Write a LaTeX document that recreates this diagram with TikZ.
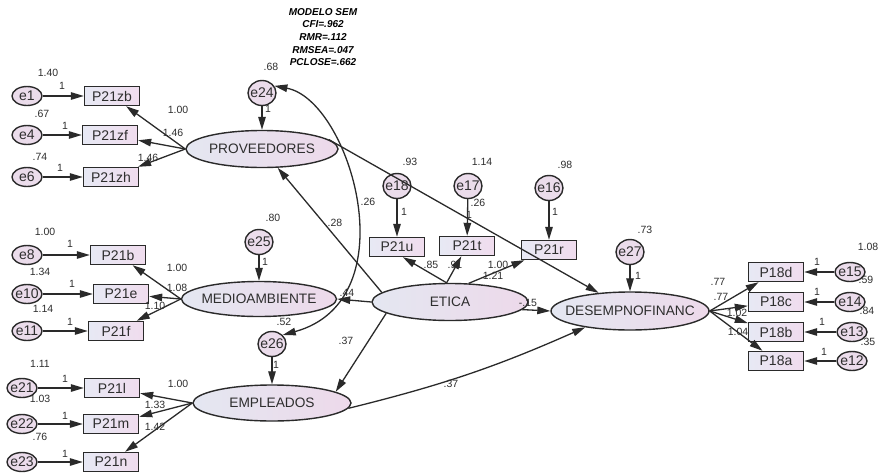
\documentclass[tikz,border=0pt]{standalone}
\usepackage{fontspec}
\setmainfont{Liberation Sans}
\usetikzlibrary{arrows.meta,shapes.geometric}
\definecolor{edge}{HTML}{2A2A2A}
\definecolor{txt}{HTML}{2E2E2E}
\definecolor{latL}{HTML}{E4E7F1}
\definecolor{latR}{HTML}{EDD9EA}
\definecolor{obsL}{HTML}{E7E9F4}
\definecolor{obsR}{HTML}{F0DCEE}
\definecolor{errc}{HTML}{EBDCEB}
% zero-width text so the ellipse keeps its given size
\newcommand{\zw}[1]{\makebox[0pt]{#1}}
\begin{document}
\begin{tikzpicture}[x=1pt,y=-1pt,
  lat/.style={ellipse, draw=edge, line width=1.4pt, left color=latL, right color=latR,
    inner sep=0pt, text=txt, font=\fontsize{13.7}{15}\selectfont},
  obs/.style={rectangle, draw=edge, line width=1.4pt, left color=obsL, right color=obsR,
    minimum width=55pt, minimum height=19pt, inner sep=0pt, text=txt,
    font=\fontsize{14}{15}\selectfont},
  errs/.style={ellipse, draw=edge, line width=1.4pt, fill=errc, minimum width=30pt,
    minimum height=19pt, inner sep=0pt, text=txt, font=\fontsize{14}{15}\selectfont},
  errt/.style={errs, minimum width=28pt, minimum height=25pt},
  arr/.style={draw=edge, line width=1.3pt, -{Triangle[length=13pt,width=7.5pt]}},
  cov/.style={draw=edge, line width=1.3pt, {Triangle[length=13pt,width=7.5pt]}-{Triangle[length=13pt,width=7.5pt]}},
  num/.style={inner sep=0pt, text=txt, font=\fontsize{10.5}{12}\selectfont},
  ttl/.style={inner sep=0pt, text=black, align=center, font=\fontsize{10}{12.6}\selectfont\bfseries\itshape}
]
\useasboundingbox (0,0) rectangle (881,474);

% ---------- latent variables ----------
\node[lat, minimum width=152pt, minimum height=37pt] (prov)  at (262,149) {\zw{PROVEEDORES}};
\node[lat, minimum width=155pt, minimum height=35pt] (med)   at (259,299) {\zw{MEDIOAMBIENTE}};
\node[lat, minimum width=158pt, minimum height=36pt] (emp)   at (272,403) {\zw{EMPLEADOS}};
\node[lat, minimum width=156pt, minimum height=37pt] (etica) at (450,302) {\zw{ETICA}};
\node[lat, minimum width=158pt, minimum height=38pt] (des)   at (630,311) {\zw{DESEMPNOFINANC}};

% ---------- observed indicators ----------
\node[obs] (pzb) at (112,96)  {P21zb};
\node[obs] (pzf) at (110,135) {P21zf};
\node[obs] (pzh) at (111,177) {P21zh};
\node[obs] (pb)  at (118,255) {P21b};
\node[obs] (pe)  at (121,294) {P21e};
\node[obs] (pf)  at (116,331) {P21f};
\node[obs] (pl)  at (112,388) {P21l};
\node[obs] (pm)  at (111,424) {P21m};
\node[obs] (pn)  at (111,462) {P21n};
\node[obs] (pu)  at (397,247) {P21u};
\node[obs] (pt)  at (467,246) {P21t};
\node[obs] (pr)  at (549,250) {P21r};
\node[obs] (qd)  at (776,272) {P18d};
\node[obs] (qc)  at (776,302) {P18c};
\node[obs] (qb)  at (776,332) {P18b};
\node[obs] (qa)  at (776,361) {P18a};

% ---------- error terms ----------
\node[errs] (e1)  at (27,96)  {\zw{e1}};
\node[errs] (e4)  at (27,135) {\zw{e4}};
\node[errs] (e6)  at (27,177) {\zw{e6}};
\node[errs] (e8)  at (27,255) {\zw{e8}};
\node[errs] (e10) at (27,294) {\zw{e10}};
\node[errs] (e11) at (27,331) {\zw{e11}};
\node[errs] (e21) at (22,388) {\zw{e21}};
\node[errs] (e22) at (22,424) {\zw{e22}};
\node[errs] (e23) at (22,462) {\zw{e23}};
\node[errs] (e15) at (850,272) {\zw{e15}};
\node[errs] (e14) at (850,302) {\zw{e14}};
\node[errs] (e13) at (852,332) {\zw{e13}};
\node[errs] (e12) at (852,361) {\zw{e12}};
\node[errt] (e24) at (262,93)  {\zw{e24}};
\node[errt] (e25) at (259,242) {\zw{e25}};
\node[errt] (e26) at (272,344) {\zw{e26}};
\node[errt] (e18) at (397,186) {\zw{e18}};
\node[errt] (e17) at (468,186) {\zw{e17}};
\node[errt] (e16) at (549,188) {\zw{e16}};
\node[errt] (e27) at (630,252) {\zw{e27}};

% ---------- error paths ----------
\foreach \e/\v in {e1/pzb,e4/pzf,e6/pzh,e8/pb,e10/pe,e11/pf,e21/pl,e22/pm,e23/pn,
                   e15/qd,e14/qc,e13/qb,e12/qa,e24/prov,e25/med,e26/emp,
                   e18/pu,e17/pt,e16/pr,e27/des}
  \draw[arr] (\e) -- (\v);

% ---------- loadings ----------
\foreach \v in {pzb,pzf,pzh} \draw[arr] (prov.west) -- (\v);
\foreach \v in {pb,pe,pf}    \draw[arr] (med.west) -- (\v);
\foreach \v in {pl,pm,pn}    \draw[arr] (emp.west) -- (\v);
\foreach \v in {qd,qc,qb,qa} \draw[arr] (des.east) -- (\v);
\draw[arr] (etica.100) -- (pu.-60);
\draw[arr] (etica.100) -- (pt);
\draw[arr] (etica.45) -- (pr);

% ---------- structural paths ----------
\draw[arr] (etica.172) -- (prov);
\draw[arr] (etica.west) -- (med.east);
\draw[arr] (etica.190) -- (emp.10);
\draw[arr] (etica.-6) -- (des.west);
\draw[arr] (prov.8) -- (des.150);
\draw[arr] (emp.-4) to[bend right=5] (des.200);

% ---------- covariance e24 <-> e26 ----------
\draw[cov] (e24.30) .. controls (350,100) and (410,300) .. (e26.40);

% ---------- fit indices ----------
\node[ttl] (fit) at (323,37) {MODELO SEM\\CFI=.962\\RMR=.112\\RMSEA=.047\\PCLOSE=.662};

% ---------- estimates ----------
\node[num] (v1)  at (48,73)   {1.40};
\node[num] (v2)  at (42,114)  {.67};
\node[num] (v3)  at (40,157)  {.74};
\node[num] (v4)  at (62,86)   {1};
\node[num] (v5)  at (65,126)  {1};
\node[num] (v6)  at (60,168)  {1};
\node[num] (v7)  at (178,110) {1.00};
\node[num] (v8)  at (173,133) {1.46};
\node[num] (v9)  at (148,158) {1.46};
\node[num] (v10) at (271,67)  {.68};
\node[num] (v11) at (268,109) {1};

\node[num] (w1)  at (45,232)  {1.00};
\node[num] (w2)  at (40,272)  {1.34};
\node[num] (w3)  at (43,309)  {1.14};
\node[num] (w4)  at (70,244)  {1};
\node[num] (w5)  at (72,284)  {1};
\node[num] (w6)  at (70,322)  {1};
\node[num] (w7)  at (177,268) {1.00};
\node[num] (w8)  at (177,288) {1.08};
\node[num] (w9)  at (155,306) {1.10};
\node[num] (w10) at (273,218) {.80};
\node[num] (w11) at (265,262) {1};
\node[num] (w12) at (335,223) {.28};
\node[num] (w13) at (368,202) {.26};
\node[num] (w14) at (347,293) {.44};
\node[num] (w15) at (284,322) {.52};

\node[num] (u1)  at (40,364)  {1.11};
\node[num] (u2)  at (40,399)  {1.03};
\node[num] (u3)  at (40,437)  {.76};
\node[num] (u4)  at (65,379)  {1};
\node[num] (u5)  at (65,416)  {1};
\node[num] (u6)  at (65,454)  {1};
\node[num] (u7)  at (178,384) {1.00};
\node[num] (u8)  at (155,405) {1.33};
\node[num] (u9)  at (155,427) {1.42};
\node[num] (u10) at (276,365) {1};
\node[num] (u11) at (346,341) {.37};
\node[num] (u12) at (451,384) {.37};

\node[num] (c1)  at (410,162) {.93};
\node[num] (c2)  at (482,162) {1.14};
\node[num] (c3)  at (565,165) {.98};
\node[num] (c4)  at (404,212) {1};
\node[num] (c5)  at (469,215) {1};
\node[num] (c6)  at (478,203) {.26};
\node[num] (c7)  at (555,212) {1};
\node[num] (c8)  at (431,265) {.85};
\node[num] (c9)  at (455,265) {.91};
\node[num] (c10) at (498,265) {1.00};
\node[num] (c11) at (493,276) {1.21};
\node[num] (c12) at (528,303) {-.15};

\node[num] (r1)  at (645,230) {.73};
\node[num] (r2)  at (638,276) {1};
\node[num] (r3)  at (718,282) {.77};
\node[num] (r4)  at (721,297) {.77};
\node[num] (r5)  at (737,313) {1.02};
\node[num] (r6)  at (738,332) {1.04};
\node[num] (r7)  at (817,262) {1};
\node[num] (r8)  at (817,292) {1};
\node[num] (r9)  at (822,322) {1};
\node[num] (r10) at (824,352) {1};
\node[num] (r11) at (868,247) {1.08};
\node[num] (r12) at (866,280) {.59};
\node[num] (r13) at (867,311) {.84};
\node[num] (r14) at (868,342) {.35};
\end{tikzpicture}
\end{document}
